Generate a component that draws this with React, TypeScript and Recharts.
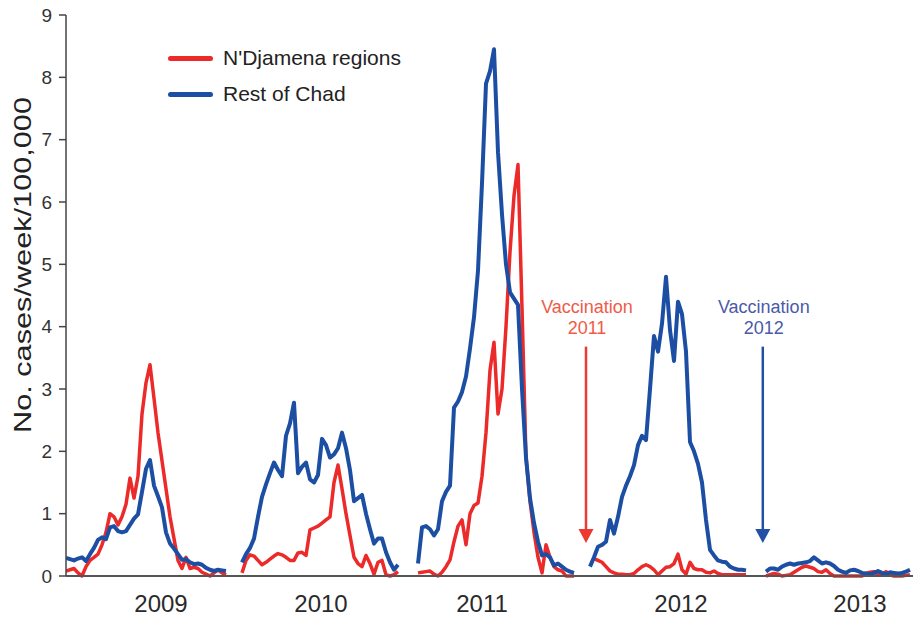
import React from 'react';
import { LineChart, Line, XAxis, YAxis, Legend, ReferenceLine, Label } from 'recharts';

// Weekly incidence (cases/week/100,000), one array per season
const red2009 = [0.08,0.1,0.12,0.05,0,0.15,0.25,0.3,0.35,0.5,0.7,1.0,0.95,0.82,0.95,1.15,1.57,1.25,1.6,2.6,3.1,3.39,2.85,2.3,1.85,1.4,0.95,0.6,0.25,0.12,0.3,0.12,0.14,0.12,0.06,0.03,0,0.05,0.1,0.05,0.02];
const blue2009 = [0.29,0.27,0.25,0.28,0.3,0.24,0.35,0.45,0.58,0.62,0.59,0.78,0.8,0.72,0.7,0.72,0.82,0.92,0.99,1.35,1.72,1.86,1.45,1.28,1.1,0.7,0.52,0.44,0.35,0.26,0.27,0.22,0.19,0.2,0.18,0.13,0.1,0.08,0.1,0.09,0.08];

const red2010 = [0.05,0.25,0.34,0.32,0.25,0.18,0.22,0.27,0.32,0.36,0.34,0.3,0.25,0.25,0.37,0.38,0.33,0.74,0.77,0.8,0.85,0.9,0.95,1.5,1.78,1.4,1.0,0.65,0.3,0.2,0.15,0.33,0.2,0.03,0.22,0.25,0.02,0,0.02,0.07];
const blue2010 = [0.22,0.35,0.45,0.6,0.95,1.27,1.47,1.65,1.82,1.7,1.6,2.25,2.45,2.78,1.65,1.75,1.82,1.55,1.5,1.62,2.2,2.1,1.9,1.95,2.05,2.3,2.05,1.7,1.2,1.25,1.3,1.0,0.75,0.52,0.6,0.6,0.38,0.22,0.1,0.18];

const red2011 = [0.05,0.06,0.07,0.08,0.03,0,0.06,0.15,0.26,0.55,0.8,0.9,0.5,1.0,1.13,1.17,1.6,2.3,3.3,3.75,2.6,3.0,4.0,5.2,6.1,6.6,4.3,1.9,1.2,0.7,0.3,0.05,0.5,0.3,0.15,0.1,0.08,0,0,0];
const blue2011 = [0.2,0.78,0.8,0.75,0.65,0.75,1.2,1.35,1.45,2.7,2.8,2.95,3.2,3.65,4.15,4.9,6.3,7.9,8.1,8.45,6.8,5.8,5.0,4.55,4.45,4.35,3.0,1.9,1.25,0.85,0.55,0.33,0.35,0.3,0.17,0.2,0.15,0.1,0.07,0.05];

const red2012 = [0.28,0.25,0.22,0.15,0.08,0.05,0.03,0.03,0.02,0.02,0.04,0.1,0.15,0.18,0.15,0.1,0.02,0.08,0.14,0.15,0.2,0.35,0.1,0.03,0.22,0.12,0.1,0.1,0.06,0.05,0.08,0.04,0.02,0.02,0.02,0.02,0.02,0.02,0.02];
const blue2012 = [0.15,0.3,0.47,0.5,0.55,0.9,0.68,0.95,1.27,1.45,1.6,1.78,2.1,2.25,2.18,3.0,3.85,3.6,4.05,4.8,3.95,3.45,4.4,4.2,3.6,2.15,2.0,1.8,1.5,0.9,0.42,0.33,0.25,0.23,0.22,0.15,0.12,0.1,0.1,0.09];

const red2013 = [0,0.02,0.04,0.03,0,0.01,0.02,0.06,0.1,0.14,0.16,0.14,0.12,0.07,0.06,0.1,0.04,0,0,0,0,0,0,0,0,0.04,0.06,0.07,0.02,0.03,0.07,0.02,0,0,0,0.01,0.02];
const blue2013 = [0.07,0.12,0.12,0.1,0.15,0.18,0.2,0.18,0.2,0.21,0.22,0.24,0.3,0.25,0.2,0.22,0.2,0.16,0.1,0.07,0.05,0.09,0.1,0.08,0.05,0.04,0.03,0.05,0.08,0.05,0.03,0.06,0.05,0.04,0.05,0.07,0.1];

// first week index of each season on the shared week axis
const redSeasons = [
  { start: 0, values: red2009 },
  { start: 44, values: red2010 },
  { start: 88, values: red2011 },
  { start: 132, values: red2012 },
  { start: 175, values: red2013 },
];
const blueSeasons = [
  { start: 0, values: blue2009 },
  { start: 44, values: blue2010 },
  { start: 88, values: blue2011 },
  { start: 131, values: blue2012 },
  { start: 175, values: blue2013 },
];

const yearLabels = ['2009', '2010', '2011', '2012', '2013'];
const yearTickWeeks = [23.75, 63.75, 104, 153.75, 198.5];
const yTicks = [0, 1, 2, 3, 4, 5, 6, 7, 8, 9];
const totalWeeks = 212;

const seriesNames = { red: "N'Djamena regions", blue: 'Rest of Chad' };
const RED = '#ec2a2a';
const BLUE = '#1c4fa3';

const rows: any[] = Array.from({ length: totalWeeks }, (_, i) => ({ week: i, red: null, blue: null }));
redSeasons.forEach((s) => s.values.forEach((v, k) => { rows[s.start + k].red = v; }));
blueSeasons.forEach((s) => s.values.forEach((v, k) => { rows[s.start + k].blue = v; }));

const YTitle = (props: any) => {
  const vb = props.viewBox || { x: 0, y: 15, width: 66, height: 561 };
  const x = vb.x + 31;
  const y = vb.y + 250;
  return (
    <text
      x={x}
      y={y}
      transform={`rotate(-90, ${x}, ${y})`}
      textAnchor="middle"
      fontSize={24}
      fill="#222"
      textLength={336}
      lengthAdjust="spacingAndGlyphs"
    >
      No. cases/week/100,000
    </text>
  );
};

const makeArrow = (stroke: string, textFill: string, line1: string, line2: string) => (props: any) => {
  const { x1, y1, x2, y2 } = props;
  const top = Math.min(y1, y2);
  const tip = Math.max(y1, y2);
  const x = x1;
  return (
    <g>
      <line x1={x} y1={top} x2={x} y2={tip - 8} stroke={stroke} strokeWidth={2.5} />
      <polygon points={`${x - 7.5},${tip - 14} ${x + 7.5},${tip - 14} ${x},${tip}`} fill={stroke} />
      <text x={x + 1} y={top - 34} textAnchor="middle" fontSize={18} fill={textFill}>{line1}</text>
      <text x={x + 1} y={top - 13} textAnchor="middle" fontSize={18} fill={textFill}>{line2}</text>
    </g>
  );
};

const LegendContent = () => (
  <div style={{ fontFamily: '"Liberation Sans", Arial, sans-serif' }}>
    {[['red', RED], ['blue', BLUE]].map(([key, color]) => (
      <div key={key} style={{ display: 'flex', alignItems: 'center', height: 36 }}>
        <span style={{ display: 'inline-block', width: 45, height: 5, borderRadius: 3, background: color }} />
        <span style={{ marginLeft: 10, fontSize: 21, color: '#222', whiteSpace: 'nowrap' }}>
          {(seriesNames as any)[key]}
        </span>
      </div>
    ))}
  </div>
);

export default function App() {
  return (
    <div
      style={{
        position: 'absolute',
        left: 0,
        top: 0,
        width: 913,
        height: 617,
        background: '#fff',
        fontFamily: '"Liberation Sans", Arial, sans-serif',
      }}
    >
      <LineChart width={913} height={617} data={rows} margin={{ top: 15, right: 0, bottom: 0, left: 0 }}>
        <XAxis
          dataKey="week"
          type="number"
          domain={[0, 211.75]}
          allowDataOverflow
          ticks={yearTickWeeks}
          interval={0}
          tickFormatter={(v: number) => yearLabels[yearTickWeeks.indexOf(v)] ?? ''}
          tickLine={false}
          tickSize={6}
          tickMargin={13}
          height={41}
          axisLine={{ stroke: '#555', strokeWidth: 2 }}
          tick={{ fontSize: 24, fill: '#2a2a2a' }}
        />
        <YAxis
          domain={[0, 9]}
          ticks={yTicks}
          interval={0}
          width={66}
          tickSize={7}
          tickMargin={7}
          axisLine={{ stroke: '#444', strokeWidth: 1.5 }}
          tickLine={{ stroke: '#444', strokeWidth: 1.5 }}
          tick={{ fontSize: 19, fill: '#333' }}
        >
          <Label content={YTitle} />
        </YAxis>
        <Legend
          content={LegendContent}
          layout="vertical"
          align="center"
          verticalAlign="middle"
          wrapperStyle={{ left: 168, top: 40, width: 260, height: 72 }}
        />
        <ReferenceLine
          segment={[{ x: 130, y: 3.68 }, { x: 130, y: 0.53 }]}
          shape={makeArrow('#ec3a30', '#f05a48', 'Vaccination', '2011')}
        />
        <ReferenceLine
          segment={[{ x: 174.2, y: 3.68 }, { x: 174.2, y: 0.53 }]}
          shape={makeArrow('#2350a5', '#4a5aa8', 'Vaccination', '2012')}
        />
        <Line
          name={seriesNames.red}
          dataKey="red"
          type="linear"
          stroke={RED}
          strokeWidth={3.5}
          strokeLinejoin="round"
          dot={false}
          connectNulls={false}
          isAnimationActive={false}
        />
        <Line
          name={seriesNames.blue}
          dataKey="blue"
          type="linear"
          stroke={BLUE}
          strokeWidth={4}
          strokeLinejoin="round"
          dot={false}
          connectNulls={false}
          isAnimationActive={false}
        />
      </LineChart>
    </div>
  );
}
